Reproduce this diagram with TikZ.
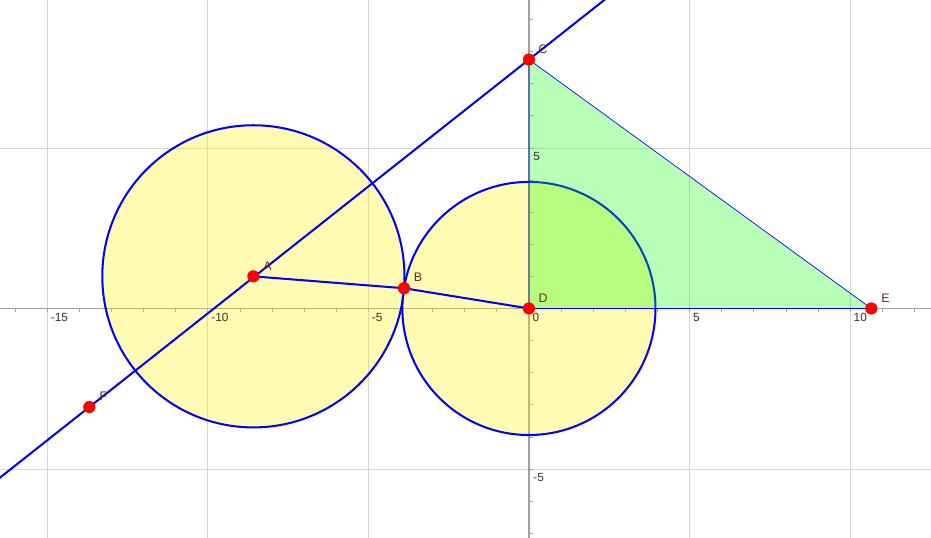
\documentclass[tikz,border=0pt]{standalone}
\usepackage{fontspec}
\setmainfont{Liberation Sans}
\usetikzlibrary{calc,positioning}

\definecolor{gridgray}{RGB}{214,214,214}
\definecolor{axisgray}{RGB}{160,160,160}
\definecolor{lblred}{RGB}{105,40,40}
\definecolor{ggblue}{RGB}{0,0,255}

\begin{document}
\begin{tikzpicture}[
    gridline/.style={gridgray, line width=0.5pt},
    axis/.style={axisgray, line width=1.1pt},
    tick/.style={axisgray, line width=0.6pt},
    num/.style={font=\fontsize{10.5}{12}\selectfont, text=black!80, inner sep=1pt, anchor=north west},
    disk/.style={draw=ggblue, line width=1.8pt, fill=yellow, fill opacity=0.3},
    tri/.style={draw=ggblue, line width=0.6pt, fill=green, fill opacity=0.28},
    seg/.style={ggblue, line width=1.8pt},
    pt/.style={circle, fill=red, inner sep=0pt, minimum size=0.38cm},
    lbl/.style={font=\fontsize{11}{13}\selectfont, text=lblred, xshift=0.44cm, yshift=0.33cm}
]
\clip (-16.47,-7.145) rectangle (12.52,9.605);

% Grid and axes
\foreach \x in {-15,-10,...,10}
    \draw[gridline] (\x,-7.2) -- (\x,9.7);
\foreach \y in {-5,5}
    \draw[gridline] (-16.5,\y) -- (12.6,\y);
\draw[axis] (-16.5,0) -- (12.6,0);
\draw[axis] (0,-7.2) -- (0,9.7);
\foreach \x in {-16,...,12}
    \draw[tick] (\x,0) -- (\x,-0.12);
\foreach \y in {-7,...,9}
    \draw[tick] (0,\y) -- (0.12,\y);

% Points
\coordinate (A) at (-8.58,1.0);
\coordinate (B) at (-3.89,0.63);
\coordinate (C) at (0,7.75);
\coordinate (D) at (0,0);
\coordinate (E) at (10.66,0);
\coordinate (F) at (-13.69,-3.07);

% Circles through B
\draw[disk] let \p1=($(B)-(A)$), \n1={veclen(\x1,\y1)} in (A) circle (\n1);
\draw[disk] let \p1=($(B)-(D)$), \n1={veclen(\x1,\y1)} in (D) circle (\n1);

% Triangle
\draw[tri] (C) -- (D) -- (E) -- cycle;

% Axis numbers
\foreach \x in {-15,-10,-5,0,5,10}
    \node[num] at (\x+0.07,-0.12) {\x};
\foreach \y in {-5,5,10}
    \node[num] at (0.1,\y-0.1) {\y};

% Lines
\draw[seg] ($(F)!-0.25!(C)$) -- ($(F)!1.2!(C)$);
\draw[seg] (A) -- (B) -- (D);

% Point marks
\node[pt, label={[lbl]center:A}] (dotA) at (A) {};
\node[pt, label={[lbl]center:B}] (dotB) at (B) {};
\node[pt, label={[lbl]center:C}] (dotC) at (C) {};
\node[pt, label={[lbl]center:D}] (dotD) at (D) {};
\node[pt, label={[lbl]center:E}] (dotE) at (E) {};
\node[pt, label={[lbl]center:F}] (dotF) at (F) {};
\end{tikzpicture}
\end{document}
